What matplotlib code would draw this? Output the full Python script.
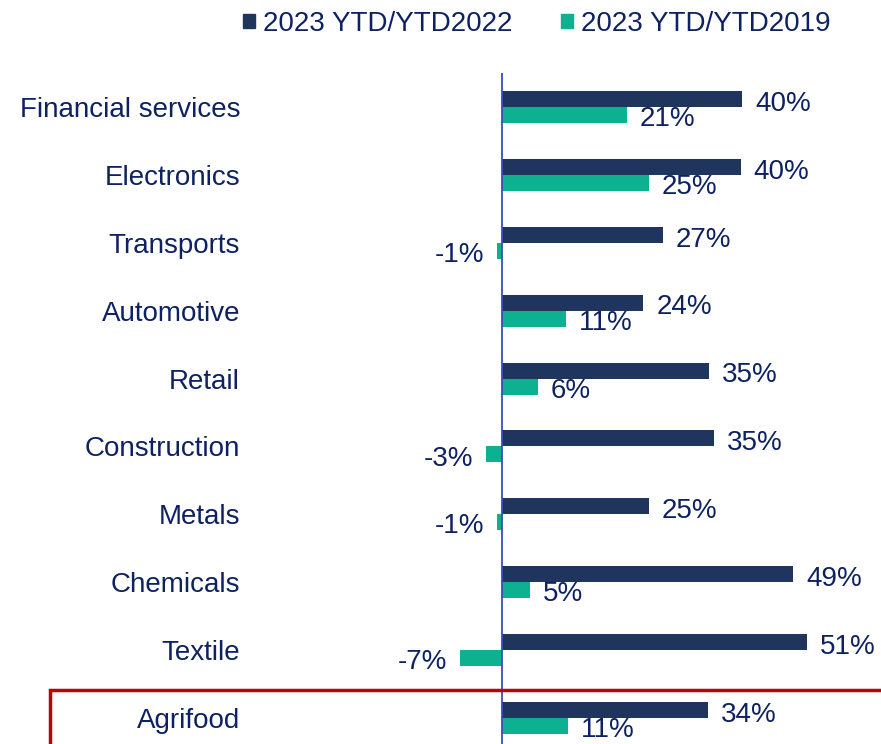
import matplotlib
matplotlib.use("Agg")
import matplotlib.pyplot as plt
from matplotlib.patches import Patch, Rectangle
import numpy as np

categories = ["Financial services", "Electronics", "Transports", "Automotive", "Retail",
              "Construction", "Metals", "Chemicals", "Textile", "Agrifood"]
ytd2022 = [40.2, 39.9, 26.9, 23.6, 34.6, 35.4, 24.6, 48.7, 51.0, 34.4]
ytd2019 = [20.9, 24.6, -0.8, 10.7, 6.0, -2.6, -0.8, 4.6, -7.0, 11.0]
series_names = ["2023 YTD/YTD2022", "2023 YTD/YTD2019"]

NAVY = "#1F355E"
TEAL = "#0DB08F"
TXT = "#0E2262"
AXC = "#3A4CC0"
RED = "#C00000"

plt.rcParams['font.family'] = ['Liberation Sans', 'DejaVu Sans']
W, H = 881, 744
fig = plt.figure(figsize=(W/100, H/100), dpi=100)

ppu = 5.98  # pixels per percent
ax_left_px = 264
zero_px = 502
ax_top_px = 73
ax_bot_px = 752
ax = fig.add_axes([ax_left_px/W, 1 - ax_bot_px/H, (W - ax_left_px)/W, (ax_bot_px - ax_top_px)/H])
ax.set_xlim(-(zero_px - ax_left_px)/ppu, (W - zero_px)/ppu)
n = len(categories)
y = np.arange(n)
ax.set_ylim(n - 0.5, -0.5)

bh = 16/68
ax.barh(y - bh/2, ytd2022, height=bh, color=NAVY)
ax.barh(y + bh/2, ytd2019, height=bh, color=TEAL)

off = 13/ppu
for i in range(n):
    v = ytd2022[i]
    ax.text(v + off if v >= 0 else v - off, y[i] - bh/2 + 0.07, f"{v:.0f}%",
            ha='left' if v >= 0 else 'right', va='center', fontsize=20, color=TXT)
    v = ytd2019[i]
    ax.text(v + off if v >= 0 else v - off, y[i] + bh/2 + 0.06, f"{v:.0f}%",
            ha='left' if v >= 0 else 'right', va='center', fontsize=20, color=TXT)

ax.axvline(0, color=AXC, lw=1.3)
for s in ax.spines.values():
    s.set_visible(False)
ax.set_xticks([])
ax.set_yticks(y)
ax.set_yticklabels(categories, fontsize=20, color=TXT)
ax.tick_params(axis='y', length=0, pad=(ax_left_px - 240) * 0.72)

handles = [Patch(color=NAVY), Patch(color=TEAL)]
fig.legend(handles, series_names, loc='center left', bbox_to_anchor=(229/W, 1 - 24/H),
           ncol=2, frameon=False, fontsize=20, labelcolor=TXT, borderpad=0,
           handlelength=0.43, handleheight=0.43, handletextpad=0.29, columnspacing=1.75)

rect = Rectangle((50/W, -0.1), 1.2, 0.1 + 1 - 690/H, transform=fig.transFigure,
                 fill=False, edgecolor=RED, lw=2.5, clip_on=False)
fig.patches.append(rect)

fig.savefig("out.png", dpi=100)
